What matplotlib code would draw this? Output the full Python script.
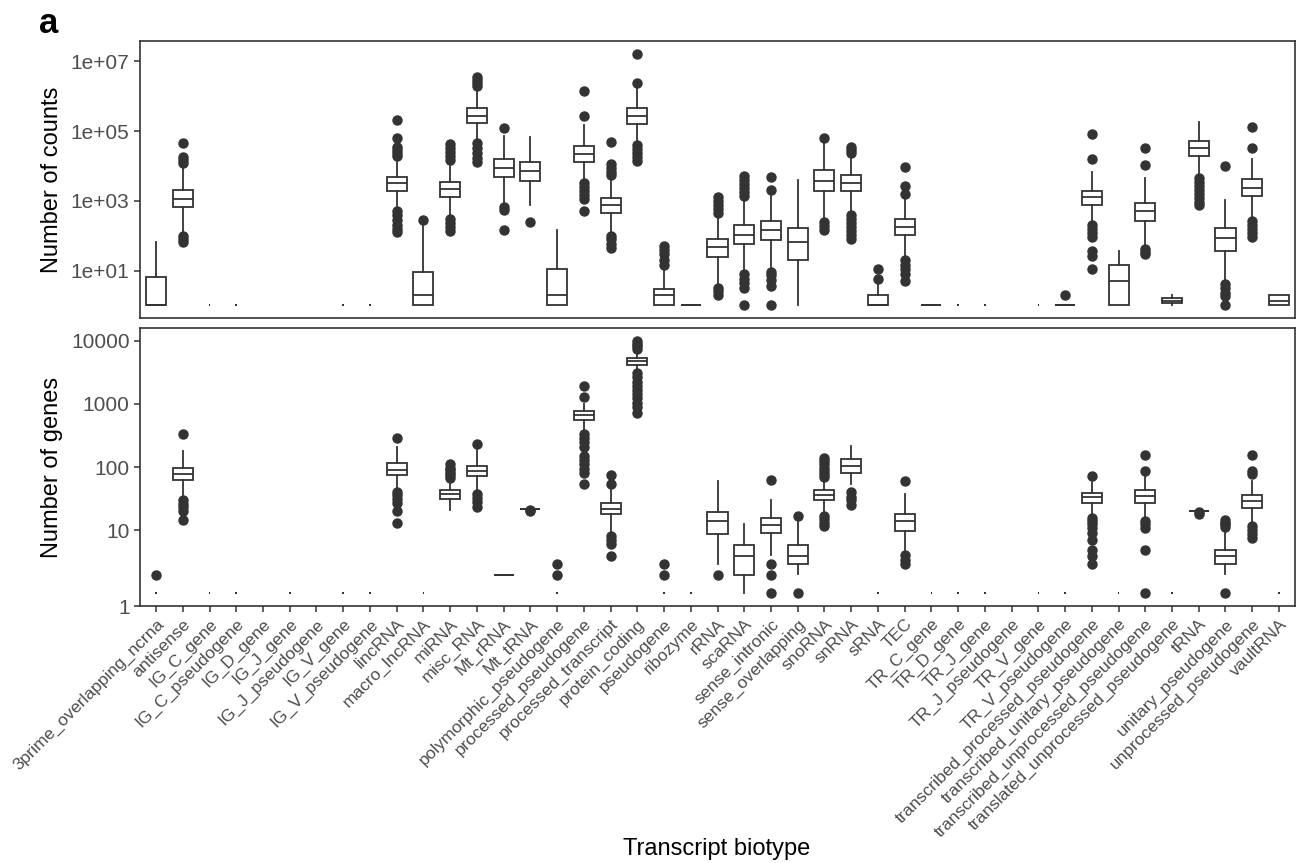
import numpy as np
import matplotlib
matplotlib.use("Agg")
from matplotlib import pyplot as plt
from matplotlib.ticker import FixedLocator, FixedFormatter, NullLocator

plt.rcParams["font.family"] = ["Liberation Sans", "DejaVu Sans"]

biotypes = [
    "3prime_overlapping_ncrna", "antisense", "IG_C_gene", "IG_C_pseudogene",
    "IG_D_gene", "IG_J_gene", "IG_J_pseudogene", "IG_V_gene", "IG_V_pseudogene",
    "lincRNA", "macro_lncRNA", "miRNA", "misc_RNA", "Mt_rRNA", "Mt_tRNA",
    "polymorphic_pseudogene", "processed_pseudogene", "processed_transcript",
    "protein_coding", "pseudogene", "ribozyme", "rRNA", "scaRNA",
    "sense_intronic", "sense_overlapping", "snoRNA", "snRNA", "sRNA", "TEC",
    "TR_C_gene", "TR_D_gene", "TR_J_gene", "TR_J_pseudogene", "TR_V_gene",
    "TR_V_pseudogene", "transcribed_processed_pseudogene",
    "transcribed_unitary_pseudogene", "transcribed_unprocessed_pseudogene",
    "translated_unprocessed_pseudogene", "tRNA", "unitary_pseudogene",
    "unprocessed_pseudogene", "vaultRNA",
]

# ---- counts per sample (log10) ----
counts_q1 = [0, 2.81, 0, 0, None, None, None, 0, 0, 3.29, 0, 3.12, 5.22, 3.68, 3.58,
             0, 4.12, 2.65, 5.20, 0, 0, 1.38, 1.76, 1.87, 1.31, 3.29, 3.29, 0, 2.02,
             0, 0, 0, None, 0, 0, 2.89, 0, 2.43, 0.06, 4.27, 1.57, 3.14, 0]
counts_med = [0, 3.05, 0, 0, None, None, None, 0, 0, 3.51, 0.29, 3.35, 5.44, 3.95, 3.86,
              0.29, 4.34, 2.87, 5.43, 0.31, 0, 1.67, 2.03, 2.15, 1.81, 3.58, 3.52, 0, 2.25,
              0, 0, 0, None, 0, 0, 3.11, 0.69, 2.71, 0.14, 4.51, 1.93, 3.38, 0.14]
counts_q3 = [0.81, 3.31, 0, 0, None, None, None, 0, 0, 3.69, 0.95, 3.55, 5.65, 4.20, 4.12,
             1.05, 4.58, 3.09, 5.65, 0.46, 0, 1.91, 2.31, 2.42, 2.23, 3.87, 3.74, 0.29, 2.49,
             0, 0, 0, None, 0, 0, 3.29, 1.15, 2.93, 0.22, 4.72, 2.23, 3.62, 0.29]
counts_lo = [0, 2.09, 0, 0, None, None, None, 0, 0, 2.83, 0, 2.60, 4.74, 2.94, 2.87,
             0, 3.60, 2.11, 4.69, 0, 0, 0.60, 1.03, 1.09, 0, 2.49, 2.69, 0, 1.43,
             0, 0, 0, None, 0, 0, 2.40, 0, 1.71, 0.01, 3.74, 0.69, 2.51, 0]
counts_hi = [1.82, 3.94, 0, 0, None, None, None, 0, 0, 4.20, 2.40, 4.03, 6.17, 4.86, 4.84,
             2.17, 5.17, 3.66, 6.26, 1.09, 0, 2.57, 3.00, 3.23, 3.60, 4.71, 4.26, 0.65, 3.09,
             0, 0, 0, None, 0, 0, 3.83, 1.56, 3.66, 0.29, 5.25, 3.03, 4.20, 0.29]
counts_out = [
    [], [4.67, 4.26, 4.17, 4.09, 2.00, 1.91, 1.83], [], [], [], [], [], [], [],
    [5.31, 4.79, 4.54, 4.46, 4.37, 4.29, 2.71, 2.60, 2.46, 2.31, 2.20, 2.11],
    [2.46],
    [4.63, 4.51, 4.40, 4.29, 4.17, 2.49, 2.37, 2.26, 2.14],
    [6.54, 6.46, 6.37, 6.29, 4.66, 4.51, 4.37, 4.23, 4.11],
    [5.08, 2.83, 2.74, 2.17],
    [2.38],
    [],
    [6.15, 5.42, 3.51, 3.40, 3.29, 3.17, 3.06, 2.71],
    [4.69, 4.06, 3.94, 3.83, 3.74, 2.00, 1.89, 1.77, 1.66],
    [7.22, 6.38, 4.60, 4.49, 4.37, 4.26, 4.14],
    [1.71, 1.60, 1.46, 1.31, 1.17],
    [],
    [3.11, 3.00, 2.89, 2.77, 2.66, 0.51, 0.40, 0.29],
    [3.71, 3.60, 3.49, 3.37, 3.26, 3.14, 0.91, 0.77, 0.63, 0.49, 0],
    [3.67, 3.32, 0.97, 0.86, 0.74, 0.57, 0],
    [],
    [4.79, 2.40, 2.29, 2.17],
    [4.54, 4.46, 4.37, 2.60, 2.49, 2.37, 2.26, 2.14, 2.03, 1.91],
    [0.77, 1.05],
    [3.96, 3.41, 3.19, 1.31, 1.17, 1.03, 0.89, 0.71],
    [], [], [], [], [],
    [0.29],
    [4.91, 4.19, 2.31, 2.20, 2.09, 1.97, 1.57, 1.43, 1.03],
    [],
    [4.52, 4.04, 1.63, 1.54, 1.46],
    [],
    [3.66, 3.54, 3.43, 3.31, 3.20, 3.09, 2.97, 2.89],
    [4.00, 0.60, 0.49, 0.37, 0.26, 0],
    [5.11, 4.51, 2.43, 2.31, 2.20, 2.09, 1.97],
    [],
]

# ---- detected genes per sample (log10) ----
genes_q1 = [0, 1.79, 0, 0, None, 0, None, 0, 0, 1.87, 0, 1.49, 1.85, 0.29, 1.34,
            0, 2.74, 1.25, 3.61, 0, 0, 0.94, 0.29, 0.95, 0.47, 1.47, 1.90, 0, 0.99,
            0, 0, 0, None, 0, 0, 1.43, 0, 1.43, 0, 1.31, 0.47, 1.35, 0]
genes_med = [0, 1.89, 0, 0, None, 0, None, 0, 0, 1.96, 0, 1.57, 1.93, 0.29, 1.34,
             0, 2.82, 1.34, 3.67, 0, 0, 1.14, 0.59, 1.08, 0.59, 1.56, 2.02, 0, 1.14,
             0, 0, 0, None, 0, 0, 1.52, 0, 1.54, 0, 1.31, 0.59, 1.46, 0]
genes_q3 = [0, 1.99, 0, 0, None, 0, None, 0, 0, 2.06, 0, 1.64, 2.02, 0.29, 1.34,
            0, 2.89, 1.43, 3.72, 0, 0, 1.29, 0.77, 1.20, 0.77, 1.64, 2.13, 0, 1.26,
            0, 0, 0, None, 0, 0, 1.59, 0, 1.64, 0, 1.31, 0.69, 1.55, 0]
genes_lo = [0, 1.55, 0, 0, None, 0, None, 0, 0, 1.64, 0, 1.32, 1.62, 0.29, 1.34,
            0, 2.58, 0.97, 3.52, 0, 0, 0.47, 0, 0.60, 0.30, 1.27, 1.73, 0, 0.68,
            0, 0, 0, None, 0, 0, 1.25, 0, 1.20, 0, 1.31, 0.30, 1.10, 0]
genes_hi = [0, 2.26, 0, 0, None, 0, None, 0, 0, 2.31, 0, 1.78, 2.31, 0.29, 1.34,
            0, 2.99, 1.68, 3.81, 0, 0, 1.78, 1.10, 1.48, 1.15, 1.77, 2.34, 0, 1.57,
            0, 0, 0, None, 0, 0, 1.77, 0, 1.86, 0, 1.31, 1.00, 1.78, 0]
genes_out = [
    [0.29],
    [2.52, 1.47, 1.41, 1.36, 1.30, 1.16],
    [], [], [], [], [], [], [],
    [2.46, 1.60, 1.55, 1.49, 1.43, 1.31, 1.11],
    [],
    [2.04, 1.99, 1.95, 1.91, 1.87, 1.83],
    [2.36, 1.57, 1.51, 1.44, 1.37],
    [],
    [1.32, 1.30],
    [0.47, 0.29],
    [3.28, 3.11, 2.52, 2.46, 2.39, 2.32, 2.18, 2.11, 2.05, 1.97, 1.90, 1.73],
    [1.88, 1.73, 0.91, 0.85, 0.78, 0.59],
    [4.00, 3.95, 3.91, 3.87, 3.48, 3.42, 3.35, 3.28, 3.22, 3.15, 3.09, 3.02, 2.95, 2.86],
    [0.47, 0.29],
    [],
    [0.29],
    [],
    [1.80, 0.47, 0.29, 0],
    [1.22, 0],
    [2.15, 2.10, 2.05, 1.99, 1.94, 1.89, 1.84, 1.23, 1.18, 1.12, 1.07],
    [1.60, 1.53, 1.47, 1.40],
    [],
    [1.78, 0.60, 0.53, 0.47],
    [], [], [], [], [], [],
    [1.86, 1.20, 1.15, 1.09, 1.03, 0.96, 0.84, 0.69, 0.59, 0.47],
    [],
    [2.19, 1.94, 1.15, 1.09, 1.03, 0.69, 0],
    [],
    [1.28, 1.25],
    [1.16, 1.12, 1.09, 1.05, 0],
    [2.19, 1.94, 1.89, 1.06, 1.00, 0.94, 0.88],
    [],
]

# biotypes seen in very few samples get a thin box
counts_thin = {"IG_C_gene", "IG_C_pseudogene", "IG_V_gene", "IG_V_pseudogene",
               "TR_D_gene", "TR_J_gene", "TR_V_gene"}
genes_thin = {"3prime_overlapping_ncrna", "IG_C_gene", "IG_C_pseudogene", "IG_J_gene",
              "IG_V_gene", "IG_V_pseudogene", "macro_lncRNA", "polymorphic_pseudogene",
              "pseudogene", "ribozyme", "sRNA", "TR_C_gene", "TR_D_gene", "TR_J_gene",
              "TR_V_gene", "TR_V_pseudogene", "transcribed_unitary_pseudogene",
              "translated_unprocessed_pseudogene", "vaultRNA"}

DARK = "#333333"


def draw_panel(ax, q1, med, q3, lo, hi, out, thin):
    stats, pos, widths = [], [], []
    for i, name in enumerate(biotypes):
        if med[i] is None:
            continue
        stats.append(dict(q1=10 ** q1[i], med=10 ** med[i], q3=10 ** q3[i],
                          whislo=10 ** lo[i], whishi=10 ** hi[i],
                          fliers=10 ** np.array(out[i], dtype=float)))
        pos.append(i + 1)
        widths.append(0.06 if name in thin else 0.75)
    ax.set_yscale("log")
    ax.bxp(stats, positions=pos, widths=widths, showcaps=False, patch_artist=True,
           manage_ticks=False,
           boxprops=dict(facecolor="white", edgecolor=DARK, linewidth=1.3),
           medianprops=dict(color=DARK, linewidth=1.3),
           whiskerprops=dict(color=DARK, linewidth=1.3),
           flierprops=dict(marker="o", markerfacecolor=DARK, markeredgecolor=DARK,
                           markersize=6.5, linestyle="none"))
    # 5% padding on the log range
    vals = [v for v in lo + hi if v is not None] + [v for o in out for v in o]
    span = max(vals) - min(vals)
    ax.set_ylim(10 ** (min(vals) - 0.05 * span), 10 ** (max(vals) + 0.05 * span))
    ax.set_xlim(0.4, len(biotypes) + 0.6)
    ax.yaxis.set_minor_locator(NullLocator())
    for s in ax.spines.values():
        s.set_color(DARK)
        s.set_linewidth(1.2)
    ax.tick_params(axis="both", colors=DARK, length=4, width=1.1,
                   labelcolor="#4d4d4d", labelsize=15)


fig = plt.figure(figsize=(12.98, 8.63), dpi=100)
ax_top = fig.add_axes([140 / 1298, 1 - 318 / 863, 1155 / 1298, 277 / 863])
ax_bot = fig.add_axes([140 / 1298, 1 - 606 / 863, 1155 / 1298, 278 / 863])

draw_panel(ax_top, counts_q1, counts_med, counts_q3, counts_lo, counts_hi,
           counts_out, counts_thin)
draw_panel(ax_bot, genes_q1, genes_med, genes_q3, genes_lo, genes_hi,
           genes_out, genes_thin)

ax_top.yaxis.set_major_locator(FixedLocator([1e1, 1e3, 1e5, 1e7]))
ax_top.yaxis.set_major_formatter(FixedFormatter(["1e+01", "1e+03", "1e+05", "1e+07"]))
ax_top.set_xticks([])

bottom = ax_bot.get_ylim()[0]
ax_bot.yaxis.set_major_locator(FixedLocator([bottom, 1e1, 1e2, 1e3, 1e4]))
ax_bot.yaxis.set_major_formatter(FixedFormatter(["1", "10", "100", "1000", "10000"]))
ax_bot.set_xticks(range(1, len(biotypes) + 1))
ax_bot.set_xticklabels(biotypes, rotation=45, ha="right", va="top",
                       rotation_mode="anchor", fontsize=12.5)

ax_top.set_ylabel("Number of counts", fontsize=17)
ax_bot.set_ylabel("Number of genes", fontsize=17)
ax_top.yaxis.set_label_coords(-0.067, 0.5)
ax_bot.yaxis.set_label_coords(-0.067, 0.5)

fig.text(717 / 1298, 1 - 855 / 863, "Transcript biotype", fontsize=17,
         ha="center", va="baseline")
fig.text(39 / 1298, 1 - 33 / 863, "a", fontsize=25, fontweight="bold", va="baseline")

fig.savefig("out.png", dpi=100, facecolor="white")
